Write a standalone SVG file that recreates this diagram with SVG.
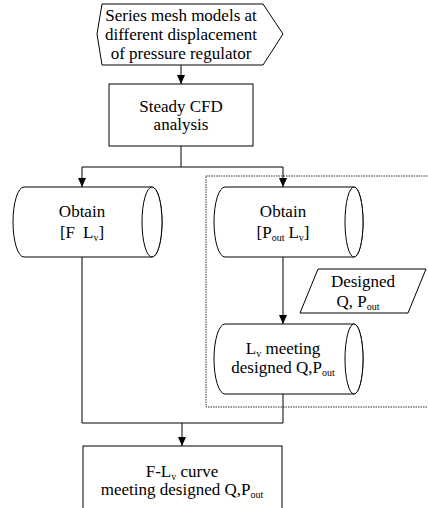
<svg xmlns="http://www.w3.org/2000/svg" width="428" height="508" viewBox="0 0 428 508">
<style>
.s{fill:#fff;stroke:#000;stroke-width:1}
.t{font-family:"Liberation Serif","Times New Roman",serif;font-size:17px;fill:#000;text-anchor:middle}
.sub{font-size:10px}
.c{fill:none;stroke:#000;stroke-width:1}
.d{fill:none;stroke:#333;stroke-width:1;stroke-dasharray:1.5 1}
</style>
<defs>
<marker id="ah" markerWidth="10" markerHeight="10" refX="9" refY="5" orient="auto" markerUnits="userSpaceOnUse">
<path d="M0,1 L9,5 L0,9 Z" fill="#000"/>
</marker>
</defs>
<rect class="d" x="206" y="176" width="225" height="231"/>
<g id="connectors">
<path class="c" d="M181,65 V84" marker-end="url(#ah)"/>
<path class="c" d="M181,146 V167 M82,167 H283"/>
<path class="c" d="M82,167 V187" marker-end="url(#ah)"/>
<path class="c" d="M283,167 V187" marker-end="url(#ah)"/>
<path class="c" d="M283,257 V324" marker-end="url(#ah)"/>
<path class="c" d="M82,257 V423 H283 V394"/>
<path class="c" d="M182,423 V446" marker-end="url(#ah)"/>
</g>
<g id="n1">
<path class="s" d="M102,4 H263 L283,34 L263,65 H102 L97,34 Z"/>
<text class="t" x="181" y="21">Series mesh models at</text>
<text class="t" x="181" y="40">different displacement</text>
<text class="t" x="181" y="59">of pressure regulator</text>
</g>
<g id="n2">
<rect class="s" x="109" y="84" width="144" height="62"/>
<text class="t" x="181" y="112">Steady CFD</text>
<text class="t" x="181" y="130">analysis</text>
</g>
<g id="n3">
<path class="s" d="M24,187 H152 A10,35 0 0 1 152,257 H24 A11,35 0 0 1 24,187 Z"/>
<ellipse class="s" cx="152" cy="222" rx="10" ry="35"/>
<text class="t" x="82" y="217">Obtain</text>
<text class="t" x="82" y="238">[F<tspan dx="8">L</tspan><tspan class="sub" dy="3">v</tspan><tspan dy="-3">]</tspan></text>
</g>
<g id="n4">
<path class="s" d="M225,187 H354 A9,35 0 0 1 354,257 H225 A11,35 0 0 1 225,187 Z"/>
<ellipse class="s" cx="354" cy="222" rx="9" ry="35"/>
<text class="t" x="283" y="217">Obtain</text>
<text class="t" x="283" y="238">[P<tspan class="sub" dy="3">out</tspan><tspan dy="-3" dx="4">L</tspan><tspan class="sub" dy="3">v</tspan><tspan dy="-3">]</tspan></text>
</g>
<g id="n5">
<path class="s" d="M318,269 H426 L408,313 H300 Z"/>
<text class="t" x="363" y="287">Designed</text>
<text class="t" x="358" y="307">Q, P<tspan class="sub" dy="3">out</tspan></text>
</g>
<g id="n6">
<path class="s" d="M225,324 H354 A9,35 0 0 1 354,394 H225 A11,35 0 0 1 225,324 Z"/>
<ellipse class="s" cx="354" cy="359" rx="9" ry="35"/>
<text class="t" x="283" y="354">L<tspan class="sub" dy="3">v</tspan><tspan dy="-3"> meeting</tspan></text>
<text class="t" x="283" y="373">designed Q,P<tspan class="sub" dy="3">out</tspan></text>
</g>
<g id="n7">
<rect class="s" x="83" y="446" width="199" height="70"/>
<text class="t" x="182" y="477">F-L<tspan class="sub" dy="3">v</tspan><tspan dy="-3"> curve</tspan></text>
<text class="t" x="182" y="495">meeting designed Q,P<tspan class="sub" dy="3">out</tspan></text>
</g>
</svg>
